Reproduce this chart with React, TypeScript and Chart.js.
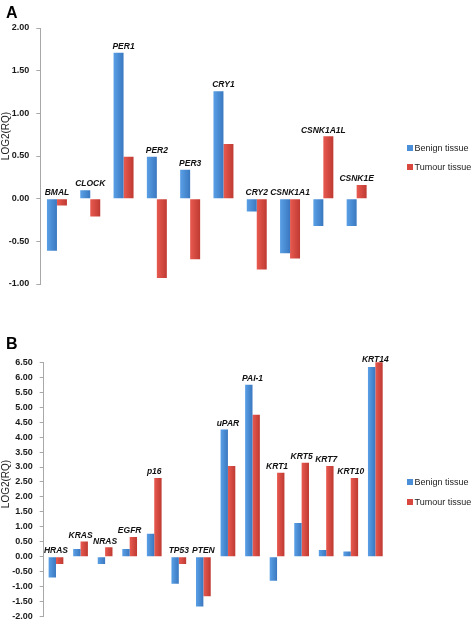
import React, { useEffect, useRef } from "react";
import { Chart, registerables } from "chart.js";

Chart.register(...registerables);

// ---- Panel A data ----
const genesA = ["BMAL", "CLOCK", "PER1", "PER2", "PER3", "CRY1", "CRY2", "CSNK1A1", "CSNK1A1L", "CSNK1E"];
const benignA = [-0.61, 0.1, 1.71, 0.49, 0.34, 1.26, -0.15, -0.64, -0.32, -0.32];
const tumourA = [-0.08, -0.21, 0.49, -0.93, -0.71, 0.64, -0.83, -0.7, 0.73, 0.16];

// ---- Panel B data ----
const genesB = ["HRAS", "KRAS", "NRAS", "EGFR", "p16", "TP53", "PTEN", "uPAR", "PAI-1", "KRT1", "KRT5", "KRT7", "KRT10", "KRT14"];
const benignB = [-0.69, 0.26, -0.24, 0.26, 0.77, -0.9, -1.66, 4.25, 5.75, -0.8, 1.13, 0.23, 0.18, 6.34];
const tumourB = [-0.24, 0.51, 0.32, 0.66, 2.63, -0.24, -1.32, 3.03, 4.75, 2.81, 3.14, 3.03, 2.63, 6.55];

const seriesNames = ["Benign tissue", "Tumour tissue"];
const yTitle = "LOG2(RQ)";

const BLUE = "#4a8fd8";
const RED = "#d8483f";
const BLUE_L = "#5aa0e6";
const BLUE_D = "#3a78c0";
const RED_L = "#e85a50";
const RED_D = "#bf3a32";

type PanelCfg = {
  letter: string;
  letterY: number;
  genes: string[];
  benign: number[];
  tumour: number[];
  min: number;
  max: number;
  padTop: number;
  padBottom: number;
  padRight: number;
  axisWidth: number;
  titleCY: number;
  titleCX: number;
  legendY: number[];
};

function makePlugin(cfg: PanelCfg) {
  return {
    id: "panelDecor" + cfg.letter,
    beforeDatasetsDraw(chart: any) {
      const ctx = chart.ctx;
      chart.data.datasets.forEach((ds: any, di: number) => {
        const meta = chart.getDatasetMeta(di);
        meta.data.forEach((el: any) => {
          const { x, width } = el.getProps(["x", "width"], true);
          const g = ctx.createLinearGradient(x - width / 2, 0, x + width / 2, 0);
          g.addColorStop(0, di === 0 ? BLUE_L : RED_L);
          g.addColorStop(1, di === 0 ? BLUE_D : RED_D);
          el.options = { ...el.options, backgroundColor: g };
        });
      });
    },
    afterDraw(chart: any) {
      const ctx = chart.ctx;
      const xs = chart.scales.x;
      const ys = chart.scales.y;
      const area = chart.chartArea;
      ctx.save();
      // gene labels
      ctx.font = "italic bold 8.5px 'Liberation Sans', Arial, sans-serif";
      ctx.fillStyle = "#111";
      ctx.textAlign = "center";
      ctx.textBaseline = "middle";
      cfg.genes.forEach((g, i) => {
        const top = Math.max(0, cfg.benign[i], cfg.tumour[i]);
        let y = ys.getPixelForValue(top) - 6;
        y = Math.max(y, area.top - 3);
        ctx.fillText(g, xs.getPixelForValue(i), y);
      });
      // legend
      ctx.font = "9px 'Liberation Sans', Arial, sans-serif";
      ctx.textAlign = "left";
      ctx.fillStyle = "#222";
      seriesNames.forEach((name, i) => {
        const cy = cfg.legendY[i];
        ctx.fillStyle = i === 0 ? BLUE : RED;
        ctx.fillRect(407, cy - 3, 6, 6);
        ctx.fillStyle = "#222";
        ctx.fillText(name, 414.5, cy + 0.5);
      });
      // y title
      ctx.save();
      ctx.translate(cfg.titleCX, cfg.titleCY);
      ctx.rotate(-Math.PI / 2);
      ctx.font = "10px 'Liberation Sans', Arial, sans-serif";
      ctx.textAlign = "center";
      ctx.textBaseline = "middle";
      ctx.fillStyle = "#222";
      ctx.fillText(yTitle, 0, 0);
      ctx.restore();
      // panel letter
      ctx.font = "bold 16px 'Liberation Sans', Arial, sans-serif";
      ctx.textAlign = "left";
      ctx.textBaseline = "alphabetic";
      ctx.fillStyle = "#000";
      ctx.fillText(cfg.letter, 6, cfg.letterY);
      ctx.restore();
    },
  };
}

function Panel({ cfg, width, height }: { cfg: PanelCfg; width: number; height: number }) {
  const ref = useRef<HTMLCanvasElement>(null);
  useEffect(() => {
    if (!ref.current) return;
    const chart = new Chart(ref.current, {
      type: "bar",
      data: {
        labels: cfg.genes,
        datasets: [
          { label: seriesNames[0], data: cfg.benign, backgroundColor: BLUE, borderWidth: 0 },
          { label: seriesNames[1], data: cfg.tumour, backgroundColor: RED, borderWidth: 0 },
        ],
      },
      options: {
        responsive: false,
        animation: false,
        devicePixelRatio: 1,
        layout: { padding: { left: 0, top: cfg.padTop, bottom: cfg.padBottom, right: cfg.padRight } },
        datasets: { bar: { categoryPercentage: 0.6, barPercentage: 1.0 } },
        plugins: { legend: { display: false }, tooltip: { enabled: false } },
        scales: {
          x: { display: false },
          y: {
            min: cfg.min,
            max: cfg.max,
            afterFit: (s: any) => {
              s.width = cfg.axisWidth;
            },
            border: { display: true, color: "#a8a8a8", width: 1 },
            grid: { drawOnChartArea: false, tickLength: 4, color: "#a8a8a8" },
            ticks: {
              stepSize: 0.5,
              padding: 7,
              color: "#1a1a1a",
              font: { family: "'Liberation Sans', Arial, sans-serif", size: 9, weight: "bold" },
              callback: (v: any) => Number(v).toFixed(2),
            },
          },
        },
      },
      plugins: [makePlugin(cfg)],
    } as any);
    return () => chart.destroy();
  }, []);
  return <canvas ref={ref} width={width} height={height} style={{ display: "block", width, height }} />;
}

const cfgA: PanelCfg = {
  letter: "A",
  letterY: 17.5,
  genes: genesA,
  benign: benignA,
  tumour: tumourA,
  min: -1,
  max: 2,
  padTop: 28,
  padBottom: 31,
  padRight: 98.7,
  axisWidth: 40.3,
  titleCY: 136,
  titleCX: 6.5,
  legendY: [148, 167],
};

const cfgB: PanelCfg = {
  letter: "B",
  letterY: 33.5,
  genes: genesB,
  benign: benignB,
  tumour: tumourB,
  min: -2,
  max: 6.5,
  padTop: 47.3,
  padBottom: 5,
  padRight: 84.4,
  axisWidth: 43.7,
  titleCY: 169,
  titleCX: 6,
  legendY: [167, 187],
};

export default function App() {
  return (
    <div style={{ position: "absolute", left: 0, top: 0, width: 472, height: 629, background: "#fff" }}>
      <div style={{ position: "absolute", left: 0, top: 0 }}>
        <Panel cfg={cfgA} width={472} height={315} />
      </div>
      <div style={{ position: "absolute", left: 0, top: 315 }}>
        <Panel cfg={cfgB} width={472} height={314} />
      </div>
    </div>
  );
}
